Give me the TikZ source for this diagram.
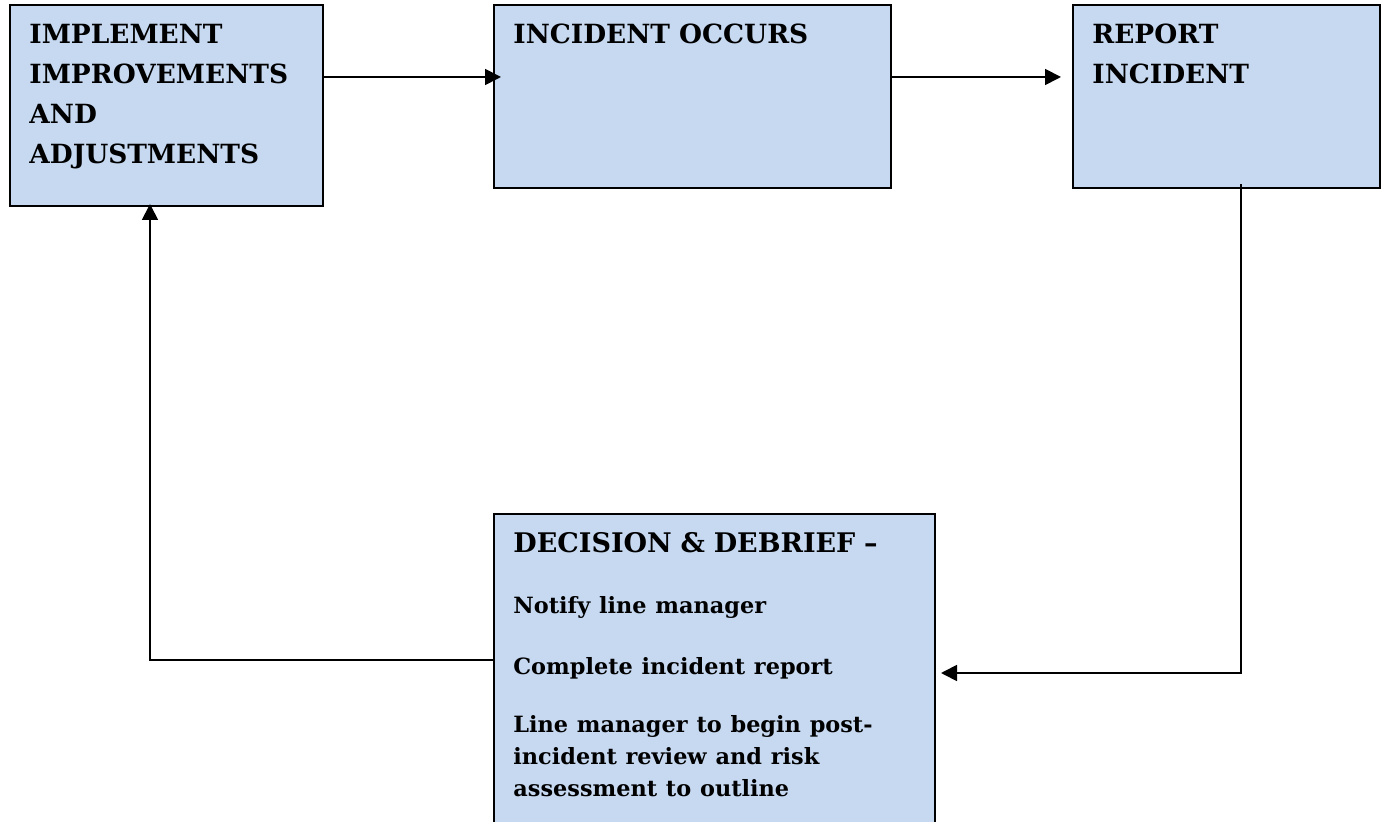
\documentclass[tikz,border=0pt]{standalone}
\usepackage{fontspec}
\setmainfont{DejaVu Serif}
\usepackage{xcolor}
\usetikzlibrary{arrows.meta}
\definecolor{boxblue}{HTML}{C6D9F1}

\begin{document}
\begin{tikzpicture}[
			     x=0.5pt, y=-0.5pt,
			     stagebox/.style={rectangle, draw=black, line width=1pt, fill=boxblue, inner sep=0pt},
			     stagetext/.style={anchor=north west, inner sep=0pt, align=left, font=\bfseries\fontsize{13.2}{20}\selectfont},
			     flow/.style={-{Triangle[length=8pt,width=8pt]}, line width=0.9pt}
			     ] 
\useasboundingbox (0,0) rectangle (1382,822);
\clip (0,0) rectangle (1382,822);
\node[stagebox, minimum width=156.5pt, minimum height=100.5pt] (impl) at (166.5,105.5) {};
\node[stagebox, minimum width=198.5pt, minimum height=91.5pt] (occurs) at (692.5,96.5) {};
\node[stagebox, minimum width=153.5pt, minimum height=91.5pt] (report) at (1226.5,96.5) {};
\node[stagebox, minimum width=220.5pt, minimum height=193pt] (debrief) at (714.5,707) {};
\node[stagetext] (impl-t) at ([xshift=10pt,yshift=-10pt]impl.north west) {IMPLEMENT\\IMPROVEMENTS\\AND\\ADJUSTMENTS};
\node[stagetext] (occurs-t) at ([xshift=10pt,yshift=-10pt]occurs.north west) {INCIDENT OCCURS};
\node[stagetext] (report-t) at ([xshift=10pt,yshift=-10pt]report.north west) {REPORT\\INCIDENT};
\node[stagetext, text width=205pt] (debrief-t) at ([xshift=10pt,yshift=-9.5pt]debrief.north west) {%
  {\fontsize{13.5}{20}\selectfont DECISION \& DEBRIEF --\par}
  \fontsize{11.2}{16}\selectfont
  \vspace{14.5pt}Notify line manager\par
  \vspace{14.5pt}Complete incident report\par
  \vspace{13pt}Line manager to begin post-\\incident review and risk\\assessment to outline\par};
\draw[flow] ([yshift=-36.5pt]impl.north east) -- ([xshift=4pt,yshift=-36.5pt]occurs.north west);
\draw[flow] ([yshift=-36.5pt]occurs.north east) -- ([xshift=-5.5pt,yshift=-36.5pt]report.north west);
\draw[flow] ([xshift=7.25pt,yshift=2.5pt]report.south) |- ([xshift=2.5pt,yshift=17pt]debrief.east);
\draw[flow] ([yshift=23.5pt]debrief.west) -| ([xshift=-8.25pt,yshift=1.5pt]impl.south);
\end{tikzpicture}
\end{document}
